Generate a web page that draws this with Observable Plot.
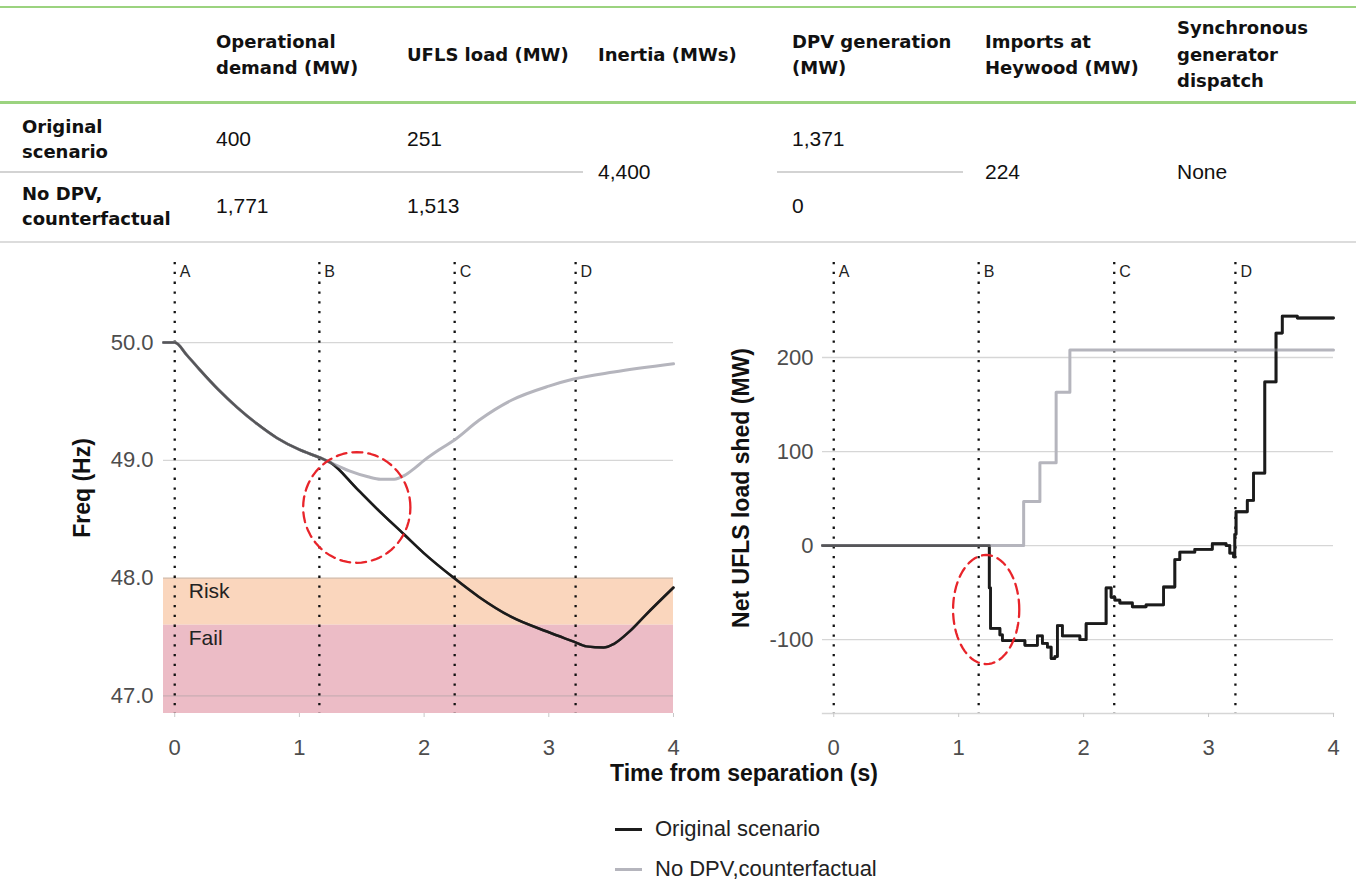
<!DOCTYPE html>
<html><head><meta charset="utf-8">
<script src="https://cdn.jsdelivr.net/npm/d3@7"></script>
<script src="https://cdn.jsdelivr.net/npm/@observablehq/plot@0.6"></script>
<style>
html,body{margin:0;padding:0;background:#fff;}
body{width:1356px;height:884px;position:relative;overflow:hidden;font-family:"Liberation Sans",Arial,sans-serif;color:#111;}
.abs{position:absolute;}
.hline{position:absolute;height:0;}
.hdr{position:absolute;top:8px;height:94px;display:flex;align-items:center;font-family:"DejaVu Sans",sans-serif;font-weight:bold;font-size:18px;line-height:26.5px;white-space:pre-line;color:#111;}
.rowlab{position:absolute;display:flex;align-items:center;font-family:"DejaVu Sans",sans-serif;font-weight:bold;font-size:18px;line-height:25px;white-space:pre-line;color:#111;}
.val{position:absolute;font-size:21px;line-height:22px;color:#111;}
.title{position:absolute;font-weight:bold;font-size:23px;line-height:24px;color:#111;white-space:nowrap;}
.leg{position:absolute;font-size:22px;line-height:24px;color:#222;white-space:nowrap;}
.sw{position:absolute;height:3px;width:27px;}
</style></head><body>
<div id="table"></div>
<div id="left" class="abs" style="left:0;top:250px"></div>
<div id="right" class="abs" style="left:680px;top:250px"></div>
<div id="xtitle" class="title" style="left:610px;top:761px"></div>
<div id="legend"></div>
<script>
// ---------- Table data ----------
const tableHeaders = ["", "Operational\ndemand (MW)", "UFLS load (MW)", "Inertia (MWs)", "DPV generation\n(MW)", "Imports at\nHeywood (MW)", "Synchronous\ngenerator\ndispatch"];
const rowLabels = ["Original\nscenario", "No DPV,\ncounterfactual"];
const operationalDemand = ["400", "1,771"];
const uflsLoad = ["251", "1,513"];
const inertia = "4,400";
const dpvGeneration = ["1,371", "0"];
const importsHeywood = "224";
const syncDispatch = "None";

// ---------- Frequency chart data ----------
const origFreqTime = [-0.09, 0, 0.1, 0.2, 0.35, 0.5, 0.66, 0.82, 1.0, 1.17, 1.25, 1.46, 1.62, 1.84, 2.0, 2.24, 2.44, 2.7, 3.0, 3.2, 3.3, 3.44, 3.52, 3.65, 3.77, 4.0];
const origFreq     = [50, 50, 49.89, 49.77, 49.6, 49.45, 49.31, 49.19, 49.09, 49.02, 48.98, 48.76, 48.59, 48.37, 48.21, 48.0, 47.84, 47.67, 47.54, 47.46, 47.42, 47.41, 47.44, 47.55, 47.68, 47.92];
const noDpvFreqTime = [-0.09, 0, 0.1, 0.2, 0.35, 0.5, 0.66, 0.82, 1.0, 1.17, 1.25, 1.4, 1.55, 1.65, 1.76, 1.84, 1.92, 2.0, 2.12, 2.24, 2.44, 2.7, 3.0, 3.2, 3.52, 4.0];
const noDpvFreq     = [50, 50, 49.89, 49.77, 49.6, 49.45, 49.31, 49.19, 49.09, 49.02, 48.98, 48.91, 48.86, 48.84, 48.84, 48.87, 48.93, 49.0, 49.09, 49.17, 49.34, 49.51, 49.63, 49.69, 49.75, 49.82];
const bandNames = ["Risk", "Fail"];
const bandTop = [48.0, 47.6];
const bandBottom = [47.6, 46.85];
const freqTicks = [47, 48, 49, 50];

// ---------- Net UFLS load shed data (step series) ----------
const origShedTime = [-0.09, 1.245, 1.255, 1.33, 1.35, 1.53, 1.63, 1.67, 1.71, 1.74, 1.77, 1.79, 1.83, 1.97, 2.02, 2.18, 2.22, 2.25, 2.29, 2.39, 2.50, 2.64, 2.73, 2.77, 2.89, 3.03, 3.14, 3.17, 3.2, 3.21, 3.22, 3.31, 3.36, 3.45, 3.54, 3.59, 3.71, 4.0];
const origShed     = [0, -45, -88, -95, -101, -106, -96, -104, -108, -120, -118, -85, -96, -100, -83, -45, -55, -58, -61, -65, -63, -44, -15, -7, -4, 2, 0, -8, -12, 12, 36, 48, 77, 174, 226, 244, 242, 242];
const noDpvShedTime = [-0.09, 1.52, 1.65, 1.78, 1.89, 4.0];
const noDpvShed     = [0, 47, 88, 163, 208, 208];
const shedTicks = [-100, 0, 100, 200];

// ---------- Shared ----------
const timeTicks = [0, 1, 2, 3, 4];
const eventLabels = ["A", "B", "C", "D"];
const eventTimes = [0, 1.16, 2.245, 3.215];
const seriesNames = ["Original scenario", "No DPV,counterfactual"];
const xTitle = "Time from separation (s)";
const freqTitle = "Freq (Hz)";
const shedTitle = "Net UFLS load shed (MW)";
// highlighted regions (red dashed ellipses): centre and radii in data units
const freqHighlight = {t: 1.46, v: 48.6, rt: 0.43, rv: 0.47};
const shedHighlight = {t: 1.22, v: -68, rt: 0.265, rv: 58};

// ---------- Colours ----------
const BLACK = "#1c1c1c", GREY = "#b5b5bd", RISK = "#fad6bd", FAIL = "#ecbcc6", RED = "#e8242a";

// ---------- Build table ----------
const T = document.getElementById("table");
function hl(top, left, width, color, thick){const d=document.createElement("div");d.className="hline";d.style.cssText=`top:${top}px;left:${left}px;width:${width}px;border-top:${thick}px solid ${color}`;T.appendChild(d);}
hl(6, 0, 1356, "#9bd37f", 2);
hl(101, 0, 1356, "#9bd37f", 3);
hl(171, 0, 583, "#d3d3d3", 2);
hl(171, 777, 186, "#d3d3d3", 2);
hl(241, 0, 1356, "#dcdcdc", 2);
const colX = [22, 216, 407, 598, 792, 985, 1177];
tableHeaders.forEach((h,i)=>{ if(!h) return; const d=document.createElement("div");d.className="hdr";d.style.left=colX[i]+"px";d.textContent=h;T.appendChild(d);});
const rowCenter = [139, 206];
rowLabels.forEach((r,i)=>{const d=document.createElement("div");d.className="rowlab";d.style.left=colX[0]+"px";d.style.top=(rowCenter[i]-25)+"px";d.style.height="50px";d.textContent=r;T.appendChild(d);});
function val(text, x, cy){const d=document.createElement("div");d.className="val";d.style.left=x+"px";d.style.top=(cy-11)+"px";d.textContent=text;T.appendChild(d);}
[0,1].forEach(i=>{
  val(operationalDemand[i], colX[1], rowCenter[i]);
  val(uflsLoad[i], colX[2], rowCenter[i]);
  val(dpvGeneration[i], colX[4], rowCenter[i]);
});
val(inertia, colX[3], 172);
val(importsHeywood, colX[5], 172);
val(syncDispatch, colX[6], 172);

// ---------- Helpers ----------
const xDomain = [-0.09, 4];
function ellipse(h){return d3.range(0, 73).map(i=>{const a=i/72*2*Math.PI;return {t:h.t+h.rt*Math.cos(a), v:h.v+h.rv*Math.sin(a)};});}
const toRows = (ts, vs)=>ts.map((t,i)=>({t, v: vs[i]}));
const events = eventTimes.map((t,i)=>({t, label: eventLabels[i]}));

function commonMarks(title){
  return [
    Plot.ruleX(events, {x:"t", stroke:"#111", strokeWidth:2.3, strokeDasharray:"2.3,7.5"}),
    Plot.text(events, {x:"t", text:"label", frameAnchor:"top", dx:5, dy:9, textAnchor:"start", lineAnchor:"middle", fontSize:16, fill:"#222"}),
    Plot.axisX({ticks: timeTicks, tickFormat: d=>String(d), tickSize:4, tickPadding:22, stroke:"#c8c8c8", fill:"#4d4d4d", fontSize:22, label:null}),
    Plot.text([title], {text: d=>d, frameAnchor:"left", dx:-81, rotate:-90, textAnchor:"middle", lineAnchor:"middle", fontSize:23, fontWeight:"bold", fill:"#111"})
  ];
}

const origFreqRows = toRows(origFreqTime, origFreq);
const noDpvFreqRows = toRows(noDpvFreqTime, noDpvFreq);
const bands = bandNames.map((n,i)=>({name:n, hi:bandTop[i], lo:bandBottom[i]}));

const left = Plot.plot({
  width: 680, height: 540,
  marginLeft: 163, marginRight: 7, marginTop: 12, marginBottom: 77,
  x: {domain: xDomain, label: null},
  y: {domain: [46.85, 50.68], label: null},
  style: {fontFamily: "Liberation Sans, Arial, sans-serif", fontSize: "22px", background: "transparent"},
  marks: [
    Plot.rect([bands[0]], {x1: xDomain[0], x2: xDomain[1], y1:"lo", y2:"hi", fill: RISK}),
    Plot.rect([bands[1]], {x1: xDomain[0], x2: xDomain[1], y1:"lo", y2:"hi", fill: FAIL}),
    Plot.gridY(freqTicks, {stroke:"#999", strokeOpacity:0.4, strokeWidth:1.3}),
    Plot.axisY({ticks: freqTicks, tickFormat: d3.format(".1f"), tickSize:0, tickPadding:10, fill:"#4d4d4d", fontSize:22, label:null}),
    Plot.text(bands, {x: 0, y:"hi", text:"name", dx:14, dy:13, textAnchor:"start", lineAnchor:"middle", fontSize:21, fill:"#222"}),
    ...commonMarks(freqTitle),
    Plot.line(origFreqRows, {x:"t", y:"v", stroke: BLACK, strokeWidth:2.5, curve:"monotone-x"}),
    Plot.line(noDpvFreqRows, {x:"t", y:"v", stroke: GREY, strokeWidth:3, curve:"monotone-x"}),
    Plot.line(origFreqRows, {x:"t", y:"v", stroke: BLACK, strokeOpacity:0.62, strokeWidth:2.5, curve:"monotone-x"}),
    Plot.line(ellipse(freqHighlight), {x:"t", y:"v", stroke: RED, strokeWidth:2.3, strokeDasharray:"10,6", curve:"linear"})
  ]
});
document.getElementById("left").appendChild(left);

const origShedRows = toRows(origShedTime, origShed);
const noDpvShedRows = toRows(noDpvShedTime, noDpvShed);
const right = Plot.plot({
  width: 676, height: 540,
  marginLeft: 142, marginRight: 23, marginTop: 12, marginBottom: 77,
  x: {domain: xDomain, label: null},
  y: {domain: [-178.5, 301], label: null},
  style: {fontFamily: "Liberation Sans, Arial, sans-serif", fontSize: "22px", background: "transparent"},
  marks: [
    Plot.gridY(shedTicks, {stroke:"#999", strokeOpacity:0.4, strokeWidth:1.3}),
    Plot.frame({anchor:"bottom", stroke:"#999", strokeOpacity:0.4, strokeWidth:1.3}),
    Plot.axisY({ticks: shedTicks, tickFormat: d=>String(d), tickSize:0, tickPadding:9, fill:"#4d4d4d", fontSize:22, label:null}),
    ...commonMarks(shedTitle),
    Plot.line(origShedRows, {x:"t", y:"v", stroke: BLACK, strokeWidth:2.8, curve:"step-after"}),
    Plot.line(noDpvShedRows, {x:"t", y:"v", stroke: GREY, strokeWidth:3, curve:"step-after"}),
    Plot.line(origShedRows, {x:"t", y:"v", stroke: BLACK, strokeOpacity:0.62, strokeWidth:2.8, curve:"step-after"}),
    Plot.line(ellipse(shedHighlight), {x:"t", y:"v", stroke: RED, strokeWidth:2.3, strokeDasharray:"10,6", curve:"linear"})
  ]
});
document.getElementById("right").appendChild(right);

document.getElementById("xtitle").textContent = xTitle;

// ---------- Legend ----------
const L = document.getElementById("legend");
const legColors = [BLACK, GREY];
const legY = [829, 869];
seriesNames.forEach((n,i)=>{
  const s=document.createElement("div");s.className="sw";s.style.cssText=`left:615px;top:${legY[i]-1.5}px;background:${legColors[i]}`;L.appendChild(s);
  const t=document.createElement("div");t.className="leg";t.style.cssText=`left:655px;top:${legY[i]-12}px`;t.textContent=n;L.appendChild(t);
});
</script>
</body></html>
